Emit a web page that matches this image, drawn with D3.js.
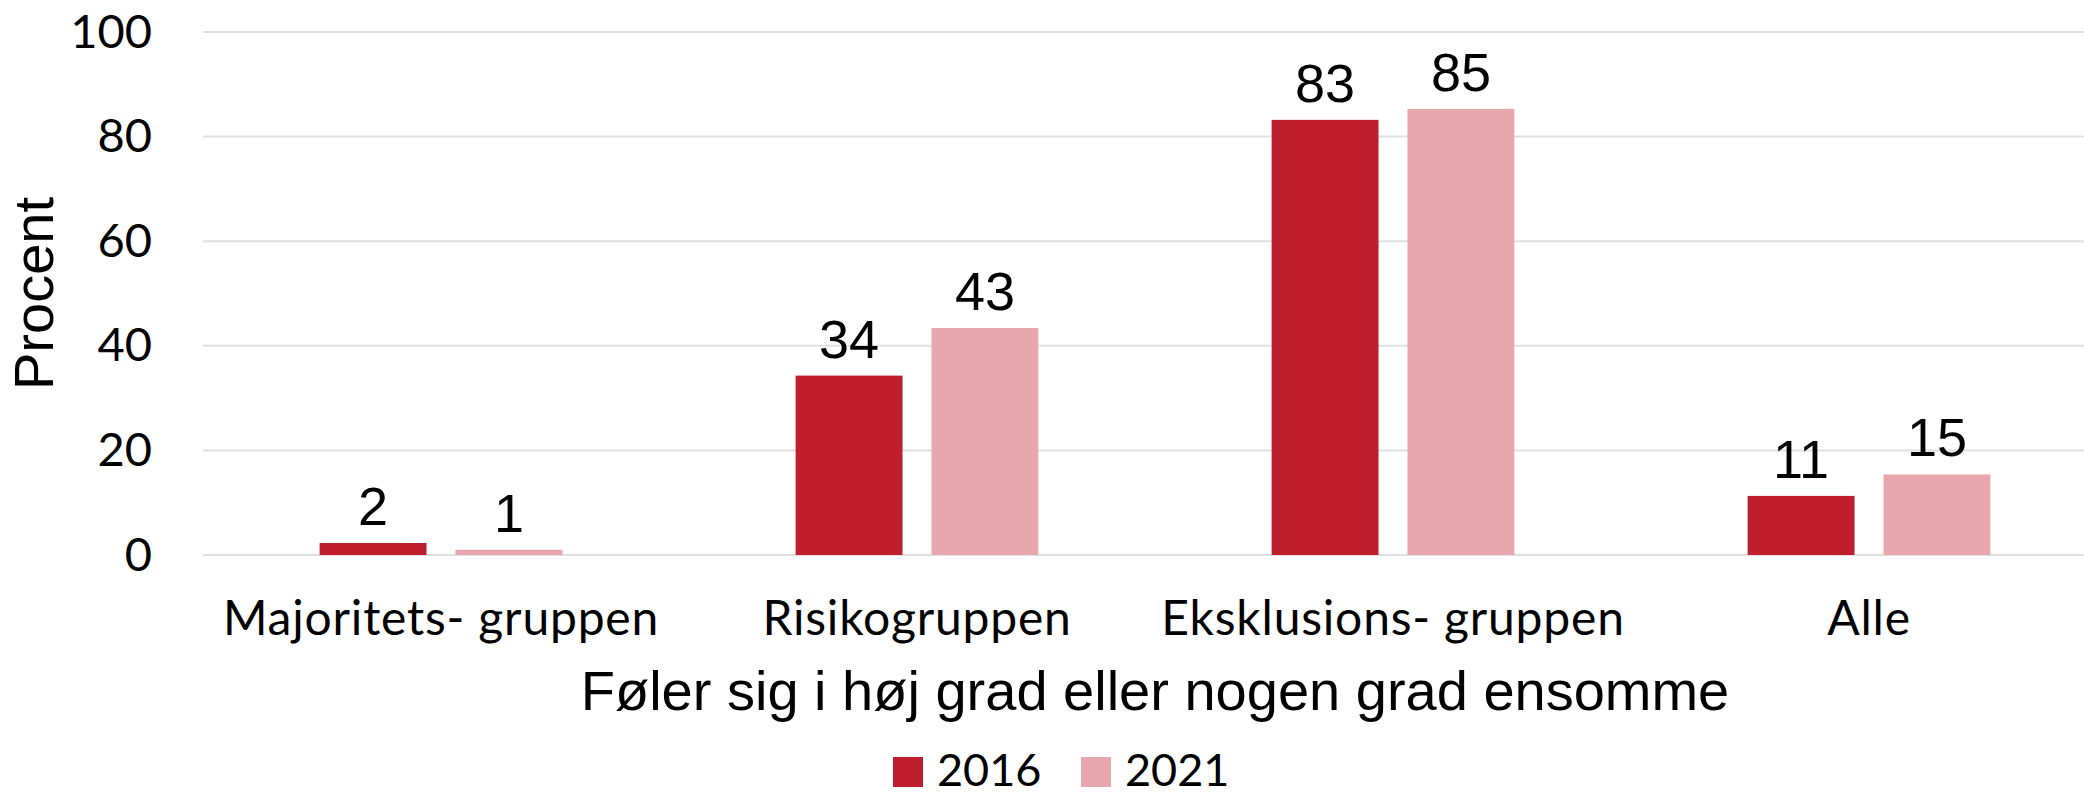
<!DOCTYPE html>
<html lang="da">
<head>
    <meta charset="UTF-8">
    <script src="https://cdn.jsdelivr.net/npm/d3@7"></script>
    <title>Føler sig i høj grad eller nogen grad ensomme</title>
    <style>
        html,
        body {
            margin: 0px;
            padding: 0px;
            background-color: #ffffff;
        }
        svg {
            display: block;
        }
    </style>
</head>
<body>
    <div id="chart"></div>
    <script>

        let categories = ['Majoritets- gruppen', 'Risikogruppen', 'Eksklusions- gruppen', 'Alle'];
        let years = ['2016', '2021'];
        let values_2016 = [2.3, 34.3, 83.2, 11.3];
        let values_2021 = [1.0, 43.4, 85.3, 15.4];
        let y_ticks = [0, 20, 40, 60, 80, 100];

        let colours = { '2016': '#be1e2d', '2021': '#e8a7ad' };

        let width = 2084;
        let height = 796;
        let margin = { left: 203, right: -23, top: 32, bottom: 241 };

        let svg = d3.select('#chart').append('svg')
            .attr('width', width)
            .attr('height', height);

        let rows = categories.map((c, i) => ({
            category: c,
            values: [
                { year: '2016', value: values_2016[i] },
                { year: '2021', value: values_2021[i] }
            ]
        }));

        let x = d3.scaleBand()
            .domain(categories)
            .range([margin.left, width - margin.right]);

        // the two bars of a group take about half of each band
        let group_width = x.bandwidth() * 0.51;
        let x1 = d3.scaleBand()
            .domain(years)
            .range([(x.bandwidth() - group_width) / 2, (x.bandwidth() + group_width) / 2])
            .paddingInner(0.213);

        let y = d3.scaleLinear()
            .domain([0, 100])
            .range([height - margin.bottom, margin.top]);

        // gridlines
        svg.append('g')
            .selectAll('line')
            .data(y_ticks)
            .join('line')
            .attr('x1', margin.left)
            .attr('x2', width)
            .attr('y1', d => y(d))
            .attr('y2', d => y(d))
            .attr('stroke', '#e0e0e0')
            .attr('stroke-width', 2);

        // y axis labels
        let y_axis = svg.append('g')
            .attr('transform', `translate(${margin.left - 51},0)`)
            .call(d3.axisLeft(y).tickValues(y_ticks).tickSize(0).tickPadding(0));
        y_axis.select('.domain').remove();
        y_axis.selectAll('text')
            .attr('font-family', 'Lato, sans-serif')
            .attr('font-size', 47)
            .attr('fill', '#000');

        // x axis labels
        let x_axis = svg.append('g')
            .attr('transform', `translate(0,${y(0)})`)
            .call(d3.axisBottom(x).tickSize(0).tickPadding(46));
        x_axis.select('.domain').remove();
        x_axis.selectAll('text')
            .attr('font-family', 'Lato, sans-serif')
            .attr('font-size', 48)
            .attr('letter-spacing', 0.8)
            .attr('fill', '#000');

        let groups = svg.append('g')
            .selectAll('g')
            .data(rows)
            .join('g')
            .attr('transform', d => `translate(${x(d.category)},0)`);

        groups.selectAll('rect')
            .data(d => d.values)
            .join('rect')
            .attr('x', d => x1(d.year))
            .attr('y', d => y(d.value))
            .attr('width', x1.bandwidth())
            .attr('height', d => y(0) - y(d.value))
            .attr('fill', d => colours[d.year]);

        groups.selectAll('text')
            .data(d => d.values)
            .join('text')
            .attr('x', d => x1(d.year) + x1.bandwidth() / 2)
            .attr('y', d => y(d.value) - 18)
            .attr('text-anchor', 'middle')
            .attr('font-family', '"Liberation Sans", Arial, sans-serif')
            .attr('font-size', 54)
            .attr('fill', '#000')
            .text(d => d3.format('.0f')(d.value));

        // axis titles
        svg.append('text')
            .attr('transform', `translate(53,${(y(0) + y(100)) / 2}) rotate(-90)`)
            .attr('text-anchor', 'middle')
            .attr('font-family', '"Liberation Sans", Arial, sans-serif')
            .attr('font-size', 56)
            .attr('fill', '#000')
            .text('Procent');

        svg.append('text')
            .attr('x', (x.range()[0] + x.range()[1]) / 2)
            .attr('y', 710)
            .attr('text-anchor', 'middle')
            .attr('font-family', '"Liberation Sans", Arial, sans-serif')
            .attr('font-size', 56)
            .attr('fill', '#000')
            .text('Føler sig i høj grad eller nogen grad ensomme');

        // legend
        let legend = svg.append('g')
            .selectAll('g')
            .data(years)
            .join('g')
            .attr('transform', (d, i) => `translate(${893 + i * 188},757)`);

        legend.append('rect')
            .attr('width', 30)
            .attr('height', 30)
            .attr('fill', d => colours[d]);

        legend.append('text')
            .attr('x', 44)
            .attr('y', 29)
            .attr('font-family', 'Lato, sans-serif')
            .attr('font-size', 45)
            .attr('fill', '#000')
            .text(d => d);

    </script>
</body>
</html>
